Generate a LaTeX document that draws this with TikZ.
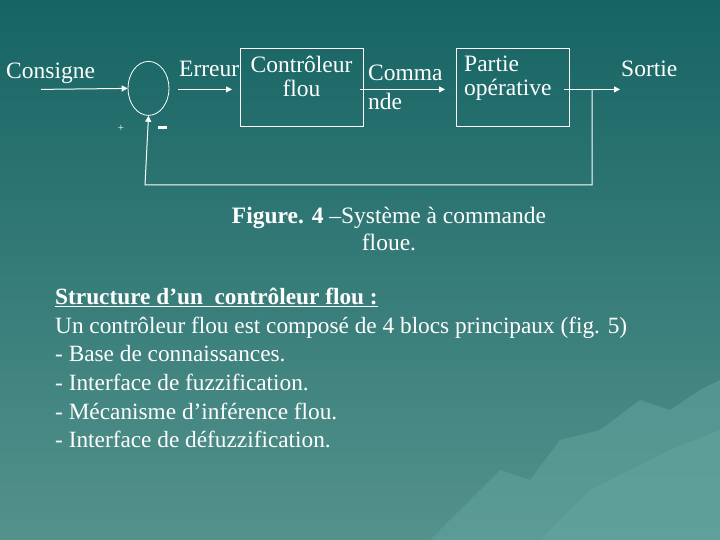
\documentclass[tikz,border=0pt]{standalone}
\usepackage{fontspec}
\setmainfont{Liberation Serif}
\usetikzlibrary{arrows.meta,shapes.geometric}
\definecolor{bgtop}{RGB}{22,100,100}
\definecolor{bgbot}{RGB}{84,146,140}
\definecolor{mtn}{RGB}{100,165,160}
\begin{document}
\begin{tikzpicture}[x=1pt,y=-1pt,
  wire/.style={white,line width=1pt},
  arr/.style={wire,-{Triangle[length=6pt,width=6pt]}},
  blk/.style={draw=white,line width=0.8pt,minimum width=122pt,minimum height=78pt,anchor=north west},
  lbl/.style={white,font=\fontsize{23.5}{25}\selectfont,inner sep=0pt},
  body/.style={white,font=\fontsize{23.3}{28.6}\selectfont,inner sep=0pt,anchor=north west,align=left}]
\useasboundingbox (0,0) rectangle (720,540);
\shade[top color=bgtop,bottom color=bgbot] (0,0) rectangle (720,540);
\fill[mtn,opacity=0.5] (430,540) -- (470,500) -- (500,470) -- (530,480) -- (560,440) -- (600,430) -- (640,400) -- (670,410) -- (700,390) -- (720,380) -- (720,540) -- cycle;
\fill[mtn,opacity=0.5] (540,540) -- (590,490) -- (630,470) -- (670,450) -- (720,430) -- (720,540) -- cycle;
\node[draw=white,line width=0.8pt,ellipse,minimum width=41pt,minimum height=54pt,inner sep=0pt] (sum) at (148.5,88.4) {};
\node[blk,minimum width=123pt] (ctl) at (240,48) {};
\node[blk,minimum width=113pt] (po) at (456,48) {};
\node[lbl,anchor=north,align=center] at (301.5,56) {Contrôleur\\[-1pt]flou};
\node[lbl,anchor=north west,align=left] at (464,56) {Partie\\[-1pt]opérative};
\coordinate (cin) at (41,89.4);
\coordinate (ein) at (178,89.4);
\coordinate (ein2) at (232,89.4);
\coordinate (cout) at (360,89.4);
\coordinate (pin) at (445,89.4);
\coordinate (pout) at (564,89.4);
\coordinate (sout) at (620,89.4);
\coordinate (tap) at (592,89.4);
\coordinate (fb1) at (592,185);
\coordinate (fb2) at (145,185);
\draw[arr] (cin) -- (sum.west);
\draw[arr] (ein) -- (ein2);
\draw[arr] (cout) -- (pin);
\draw[arr] (pout) -- (sout);
\draw[arr] (tap) -- (fb1) -- (fb2) -- (sum.south);
\node[lbl,anchor=west] (cons) at (6,73) {Consigne};
\node[lbl,anchor=west] (err) at (179,69) {Erreur};
\node[lbl,anchor=west] (com1) at (368,73) {Comma};
\node[lbl,anchor=west] (com2) at (368,101) {nde};
\node[lbl,anchor=west] (sort) at (621,69) {Sortie};
\node[white,font=\fontsize{11}{11}\selectfont] (plus) at (121,128) {+};
\fill[white] (158,126.5) rectangle (167,129.5);
\node[lbl,align=center] (cap) at (389,229) {\textbf{Figure. 4} –Système à commande\\[2pt]floue.};
\node[body] (txt) at (55,288) {\textbf{\underline{Structure d’un\ \ contrôleur flou :}}\\
Un contrôleur flou est composé de 4 blocs principaux (fig. 5)\\
- Base de connaissances.\\
- Interface de fuzzification.\\
- Mécanisme d’inférence flou.\\
- Interface de défuzzification.};
\end{tikzpicture}
\end{document}
